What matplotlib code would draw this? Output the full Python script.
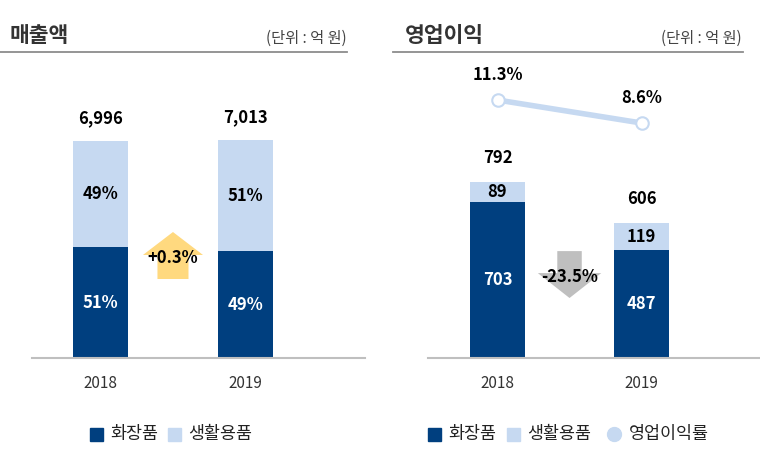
import matplotlib.pyplot as plt
from matplotlib.lines import Line2D
from matplotlib.patches import FancyArrow, Rectangle
import numpy as np

plt.rcParams['font.family'] = ['Noto Sans CJK KR', 'DejaVu Sans']

years = ['2018', '2019']

# 매출액 (억 원)
sales_total = [6996, 7013]
sales_cos = [3568, 3436]      # 화장품
sales_home = [3428, 3577]     # 생활용품
sales_cos_lbl = ['51%', '49%']
sales_home_lbl = ['49%', '51%']
sales_change = '+0.3%'

# 영업이익 (억 원)
op_total = [792, 606]
op_cos = [703, 487]
op_home = [89, 119]
op_margin = [11.3, 8.6]
op_change = '-23.5%'

NAVY = '#003f7f'
LIGHT = '#c6d9f1'
W, H = 760, 462
NUM = dict(fontsize=12, fontweight='bold', ha='center', va='center')


def px_axes(fig, x0, x1, ytop, ybot):
    return fig.add_axes([x0 / W, 1 - ybot / H, (x1 - x0) / W, (ybot - ytop) / H])


fig = plt.figure(figsize=(7.6, 4.62), dpi=100)

# headers
fig.text(10 / W, 1 - 36 / H, '매출액', fontsize=15.5, fontweight='bold', color='#333333', va='center')
fig.text(347 / W, 1 - 38 / H, '(단위 : 억 원)', fontsize=11, color='#444444', va='center', ha='right')
fig.add_artist(Line2D([0, 347 / W], [1 - 52 / H] * 2, color='#8c8c8c', lw=1.3))
fig.text(405 / W, 1 - 36 / H, '영업이익', fontsize=15.5, fontweight='bold', color='#333333', va='center')
fig.text(742 / W, 1 - 38 / H, '(단위 : 억 원)', fontsize=11, color='#444444', va='center', ha='right')
fig.add_artist(Line2D([393 / W, 743 / W], [1 - 52 / H] * 2, color='#8c8c8c', lw=1.3))

x = np.arange(len(years))
bw = 0.38

# ---- 매출액 ----
ax = px_axes(fig, 32, 365, 60, 358)
ax.bar(x, sales_cos, bw, color=NAVY)
ax.bar(x, sales_home, bw, bottom=sales_cos, color=LIGHT)
ax.set_xlim(-0.472, 1.824)
ax.set_ylim(0, 9608)
for i in x:
    ax.text(i, sales_cos[i] / 2, sales_cos_lbl[i], color='white', **NUM)
    ax.text(i, sales_cos[i] + sales_home[i] / 2, sales_home_lbl[i], color='black', **NUM)
    ax.text(i, sales_total[i] + 750, f'{sales_total[i]:,}', color='black', **NUM)
ax.add_patch(FancyArrow(0.5, 2547, 0, 1515, width=0.214, head_width=0.414,
                        head_length=740, length_includes_head=True,
                        color='#ffd97f', lw=0))
ax.text(0.5, 3240, sales_change, color='black', **NUM)

# ---- 영업이익 ----
ax2 = px_axes(fig, 428, 760, 60, 358)
ax2.bar(x, op_cos, bw, color=NAVY)
ax2.bar(x, op_home, bw, bottom=op_cos, color=LIGHT)
ax2.set_xlim(-0.483, 1.823)
ax2.set_ylim(0, 1341)
for i in x:
    ax2.text(i, op_cos[i] / 2, str(op_cos[i]), color='white', **NUM)
    ax2.text(i, op_cos[i] + op_home[i] / 2, str(op_home[i]), color='black', **NUM)
    ax2.text(i, op_total[i] + 110, str(op_total[i]), color='black', **NUM)
ax2.add_patch(FancyArrow(0.5, 481, 0, -211, width=0.17, head_width=0.44,
                         head_length=112, length_includes_head=True,
                         color='#bfbfbf', lw=0))
ax2.text(0.5, 365, op_change, color='black', **NUM)

ax3 = ax2.twinx()
ax3.set_ylim(-19.0, 16.0)
ax3.plot(x, op_margin, color=LIGHT, lw=4, marker='o', ms=9,
         mfc='white', mec=LIGHT, mew=1.5, zorder=3)
for i in x:
    ax3.text(i, op_margin[i] + 2.9, f'{op_margin[i]}%', color='black', **NUM)
ax3.axis('off')

for a in (ax, ax2):
    for s in ('left', 'right', 'top'):
        a.spines[s].set_visible(False)
    a.spines['bottom'].set_color('#bfbfbf')
    a.spines['bottom'].set_linewidth(1.5)
    a.set_yticks([])
    a.set_xticks(x)
    a.set_xticklabels(years, fontsize=11, color='#333333')
    a.tick_params(axis='x', length=0, pad=12)

# legends
leg = dict(fontsize=12.5, color='#222222', va='center')
fy = 1 - 434 / H
sq = 13
for x0, col, lab in [(90, NAVY, '화장품'), (168, LIGHT, '생활용품'),
                     (428, NAVY, '화장품'), (507, LIGHT, '생활용품')]:
    fig.add_artist(Rectangle((x0 / W, fy - sq / 2 / H), sq / W, sq / H, color=col))
    fig.text((x0 + 20) / W, fy, lab, **leg)
fig.add_artist(Line2D([614 / W], [fy], marker='o', ms=10, color=LIGHT, lw=0))
fig.text(629 / W, fy, '영업이익률', **leg)

fig.savefig('out.png', dpi=100)
